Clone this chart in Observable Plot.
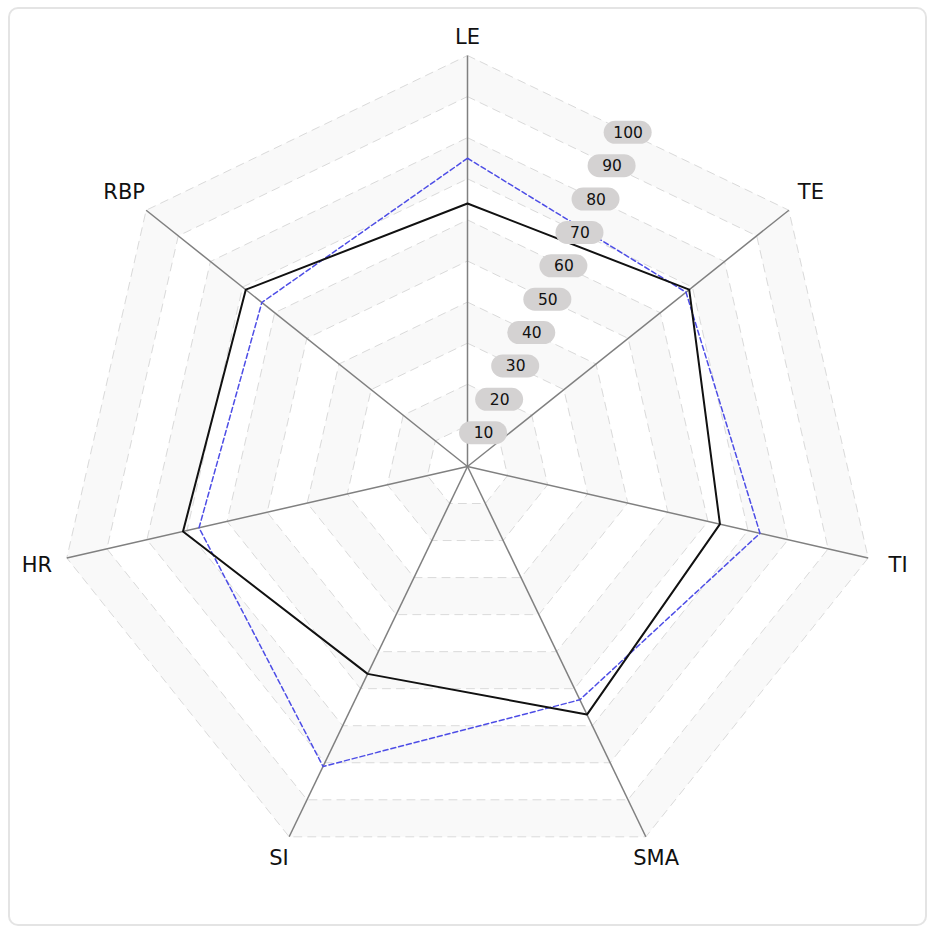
<!DOCTYPE html>
<html>
<head>
<meta charset="utf-8">
<script src="https://cdn.jsdelivr.net/npm/d3@7"></script>
<script src="https://cdn.jsdelivr.net/npm/@observablehq/plot@0.6"></script>
<style>
  html, body { margin: 0; padding: 0; background: #fff; }
  #wrap { position: relative; width: 935px; height: 934px; }
  #frame { position: absolute; left: 8px; top: 7px; width: 919px; height: 919px; box-sizing: border-box;
           border: 2px solid #e4e4e4; border-radius: 10px; pointer-events: none; }
  svg { display: block; }
</style>
</head>
<body>
<div id="wrap"><div id="frame"></div></div>
<script>
const axes = ["LE", "TE", "TI", "SMA", "SI", "HR", "RBP"];
const seriesBlack = [64, 69, 63, 67, 56, 71, 69];
const seriesBlue = [75, 68, 73, 63, 81, 67, 64];
const ringValues = [10, 20, 30, 40, 50, 60, 70, 80, 90, 100];
const ringLabels = ["10", "20", "30", "40", "50", "60", "70", "80", "90", "100"];

const W = 935, H = 934, cx = 467, cy = 466, R = 411; // px for value 100
const k = R / 100;
const n = axes.length;
const ang = i => (i * 2 * Math.PI) / n;
const pt = (i, v) => ({ x: v * Math.sin(ang(i)), y: v * Math.cos(ang(i)) });

// rings (descending so inner ones draw on top)
const ringPts = [];
for (const v of [...ringValues].reverse()) {
  for (let i = 0; i < n; i++) ringPts.push({ ring: v, ...pt(i, v) });
}
const ringFill = d => (d.ring / 10) % 2 === 0 ? "#f9f9f9" : "#ffffff";

const spokes = axes.map((a, i) => { const p = pt(i, 100); return { x1: 0, y1: 0, x2: p.x, y2: p.y }; });

const black = seriesBlack.map((v, i) => pt(i, v));
const blue = seriesBlue.map((v, i) => pt(i, v));

const axisLabels = axes.map((a, i) => {
  const r = (429 + 13 * Math.abs(Math.sin(ang(i)))) / k;
  return { label: a, ...pt(i, r) };
});

const pillHW = 24 / k, pillHH = 11.5 / k;
const pills = ringValues.map((v, j) => {
  const p0 = pt(0, v), p1 = pt(1, v);
  const x = (p0.x + p1.x) / 2, y = (p0.y + p1.y) / 2;
  return { label: ringLabels[j], x, y, x1: x - pillHW, x2: x + pillHW, y1: y - pillHH, y2: y + pillHH };
});

const chart = Plot.plot({
  width: W,
  height: H,
  margin: 0,
  x: { domain: [-cx / k, (W - cx) / k], axis: null },
  y: { domain: [-(H - cy) / k, cy / k], axis: null },
  style: { fontFamily: "DejaVu Sans, Verdana, sans-serif", background: "transparent" },
  marks: [
    Plot.line(ringPts, { x: "x", y: "y", z: "ring", curve: "linear-closed", fill: ringFill, stroke: "none" }),
    Plot.line(ringPts, { x: "x", y: "y", z: "ring", curve: "linear-closed", stroke: "#dadada", strokeWidth: 1, strokeDasharray: "8,6" }),
    Plot.link(spokes, { x1: "x1", y1: "y1", x2: "x2", y2: "y2", stroke: "#808080", strokeWidth: 1.5 }),
    Plot.line(blue, { x: "x", y: "y", curve: "linear-closed", stroke: "#4d4de6", strokeWidth: 1.5, strokeDasharray: "5,3" }),
    Plot.line(black, { x: "x", y: "y", curve: "linear-closed", stroke: "#111", strokeWidth: 2 }),
    Plot.rect(pills, { x1: "x1", x2: "x2", y1: "y1", y2: "y2", fill: "#d4d2d2", rx: 11.5 }),
    Plot.text(pills, { x: "x", y: "y", text: "label", fontSize: 15.5, fill: "#111" }),
    Plot.text(axisLabels, { x: "x", y: "y", text: "label", fontSize: 21, fill: "#111" })
  ]
});
document.getElementById("wrap").prepend(chart);
</script>
</body>
</html>
